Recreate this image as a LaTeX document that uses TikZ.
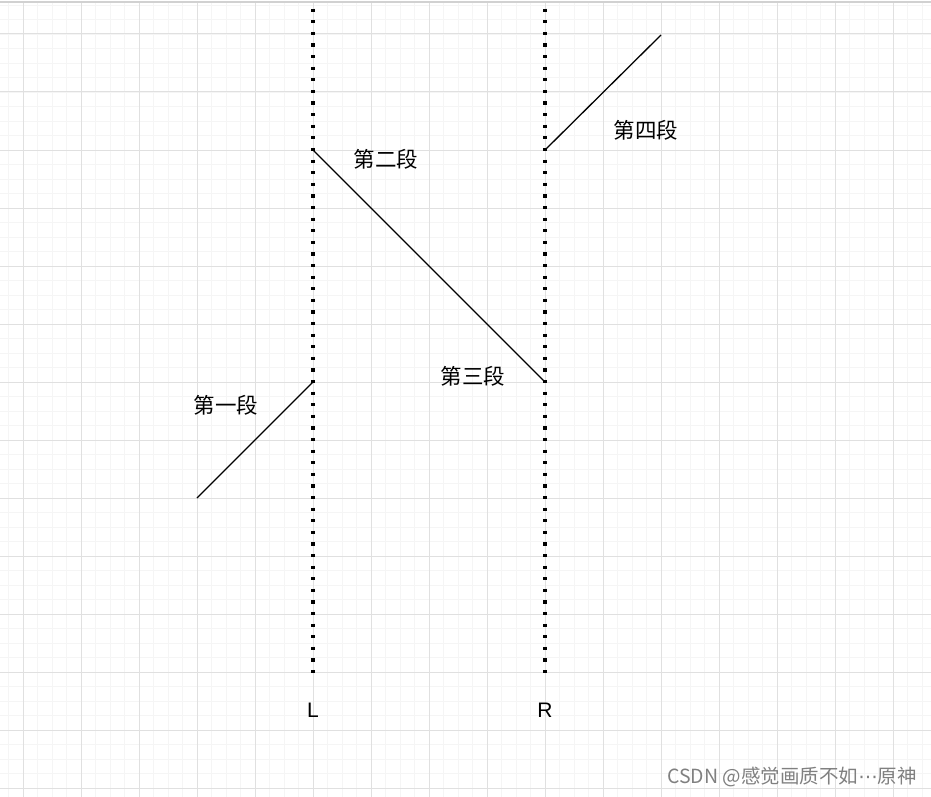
\documentclass[tikz,border=0pt]{standalone}
\usepackage{fontspec}
\newfontfamily\cjk{Noto Sans CJK SC}
\newfontfamily\lat{Liberation Sans}
\newfontfamily\dvs{DejaVu Sans}
\begin{document}
\begin{tikzpicture}[x=1pt,y=-1pt,
  minorgrid/.style={draw=black!4,line width=0.8pt},
  majorgrid/.style={draw=black!12,line width=1pt},
  guide/.style={line width=3.2pt,dash pattern=on 3.2pt off 8.4pt,black},
  seg/.style={line width=1.3pt,black},
  lbl/.style={font=\cjk\fontsize{21.5}{24}\selectfont,inner sep=0pt},
  side/.style={font=\lat\fontsize{21}{24}\selectfont,inner sep=0pt},
  wm/.style={font=\cjk\fontsize{19.5}{22}\selectfont,text=black!50,inner sep=0pt}]
\useasboundingbox (0,0) rectangle (931,797);
\fill[white] (0,0) rectangle (931,797);
% minor grid
\foreach \i in {-1,...,64} {
  \draw[minorgrid] ({23+14.5*\i},3) -- ({23+14.5*\i},797);
}
\foreach \j in {-2,...,53} {
  \draw[minorgrid] (0,{34+14.5*\j}) -- (931,{34+14.5*\j});
}
% major grid
\foreach \i in {0,...,15} {
  \draw[majorgrid] ({23+58*\i},3) -- ({23+58*\i},797);
}
\foreach \j in {0,...,13} {
  \draw[majorgrid] (0,{34+58*\j}) -- (931,{34+58*\j});
}
\draw[draw=black!18,line width=1.5pt] (0,2) -- (931,2);
% guide lines
\coordinate (Ltop) at (313,8.7);
\coordinate (Lbot) at (313,673);
\coordinate (Rtop) at (545,8.7);
\coordinate (Rbot) at (545,673);
\draw[guide] (Ltop) -- (Lbot);
\draw[guide] (Rtop) -- (Rbot);
% segments
\coordinate (a) at (197,498);
\coordinate (b) at (313,382);
\coordinate (c) at (313,150);
\coordinate (d) at (545,382);
\coordinate (e) at (545,150);
\coordinate (f) at (661,35);
\draw[seg] (a) -- (b);
\draw[seg] (c) -- (d);
\draw[seg] (e) -- (f);
% labels
\node[lbl] (s1) at (226,405) {第一段};
\node[lbl] (s2) at (386,159) {第二段};
\node[lbl] (s3) at (473,376) {第三段};
\node[lbl] (s4) at (646,130) {第四段};
\node[side] (Ll) at (313,710) {L};
\node[side] (Rl) at (545,710) {R};
\node[wm,anchor=east] (w) at (917,777) {CSDN @感觉画质不如{\dvs ⋯}原神};
\end{tikzpicture}
\end{document}
